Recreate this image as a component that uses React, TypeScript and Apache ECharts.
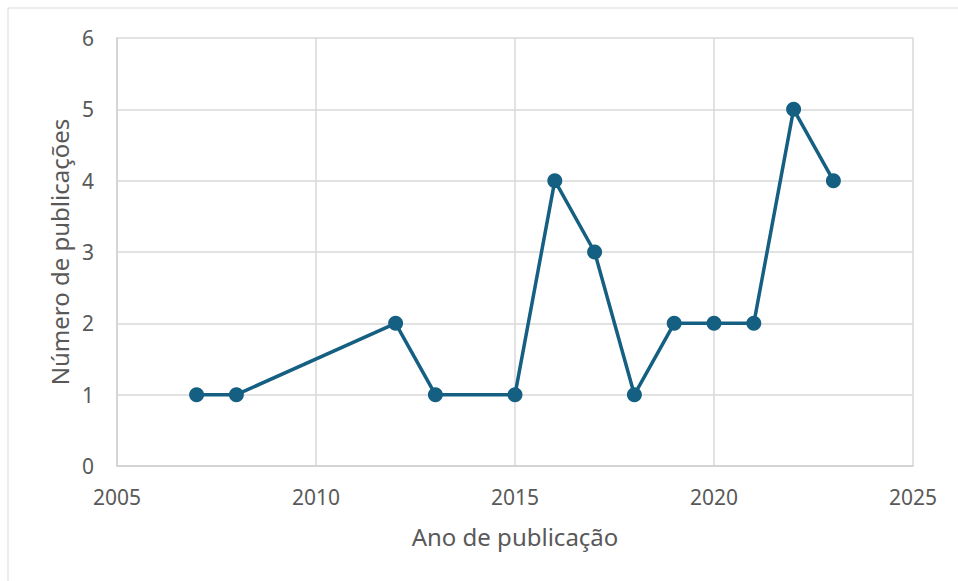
import React, { useEffect, useRef } from "react";
import * as echarts from "echarts";

const years = [2007, 2008, 2012, 2013, 2015, 2016, 2017, 2018, 2019, 2020, 2021, 2022, 2023];
const counts = [1, 1, 2, 1, 1, 4, 3, 1, 2, 2, 2, 5, 4];
const xName = "Ano de publicação";
const yName = "Número de publicações";

export default function App() {
  const ref = useRef<HTMLDivElement>(null);
  useEffect(() => {
    if (!ref.current) return;
    const chart = echarts.init(ref.current, undefined, { renderer: "svg" });
    const font = "'Noto Sans', 'Liberation Sans', sans-serif";
    chart.setOption({
      animation: false,
      backgroundColor: "#ffffff",
      textStyle: { fontFamily: font },
      graphic: [
        {
          type: "rect",
          shape: { x: 8, y: 8, width: 1000, height: 1000 },
          style: { fill: "none", stroke: "#d9d9d9", lineWidth: 1 },
          silent: true,
        },
      ],
      grid: { left: 117, right: 45, top: 38, bottom: 115, containLabel: false },
      xAxis: {
        type: "value",
        min: 2005,
        max: 2025,
        interval: 5,
        name: xName,
        nameLocation: "middle",
        nameGap: 58,
        nameTextStyle: { fontSize: 24, color: "#595959", fontFamily: font },
        axisLine: { show: true, lineStyle: { color: "#d0d0d0", width: 1.5 } },
        axisTick: { show: false },
        axisLabel: {
          fontSize: 21,
          color: "#595959",
          margin: 20,
          fontFamily: font,
          formatter: (v: number) => String(v),
        },
        splitLine: { show: true, lineStyle: { color: "#d9d9d9", width: 1.5 } },
      },
      yAxis: {
        type: "value",
        min: 0,
        max: 6,
        interval: 1,
        name: yName,
        nameLocation: "middle",
        nameGap: 45,
        nameTextStyle: { fontSize: 24, color: "#595959", fontFamily: font },
        axisLine: { show: true, lineStyle: { color: "#d0d0d0", width: 1.5 } },
        axisTick: { show: false },
        axisLabel: { fontSize: 21, color: "#595959", margin: 23, fontFamily: font },
        splitLine: { show: true, lineStyle: { color: "#d9d9d9", width: 1.5 } },
      },
      series: [
        {
          type: "line",
          data: years.map((y, i) => [y, counts[i]]),
          symbol: "circle",
          symbolSize: 15,
          lineStyle: { color: "#156082", width: 3.5 },
          itemStyle: { color: "#156082" },
        },
      ],
    });
    return () => chart.dispose();
  }, []);
  return <div ref={ref} style={{ width: 958, height: 581, position: "absolute", left: 0, top: 0 }} />;
}
